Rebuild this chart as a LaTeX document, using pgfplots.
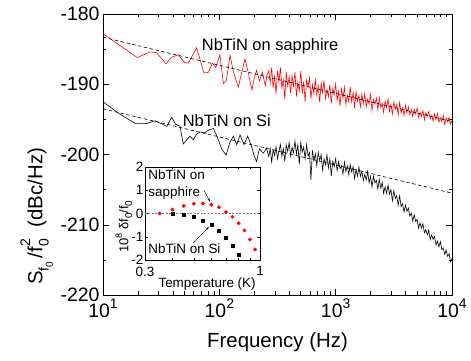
\documentclass[border=0pt]{standalone}
\usepackage{fontspec}
\setmainfont{Liberation Sans}
\usepackage{pgfplots}
\usepackage{pgfplotstable}
\pgfplotsset{compat=1.18}
\usetikzlibrary{arrows.meta}
\newcommand{\sups}[2][14]{\raisebox{0.5em}{\fontsize{#1}{#1}\selectfont #2}}

\pgfplotstableread{
lx db
1.000 -182.8
1.295 -186.2
1.404 -185.4
1.460 -185.5
1.542 -187.1
1.585 -186.2
1.648 -185.8
1.700 -186.9
1.733 -187.0
1.805 -184.8
1.868 -188.4
1.906 -188.3
1.940 -187.0
1.970 -187.6
2.005 -185.8
2.035 -189.9
2.060 -189.5
2.092 -185.9
2.120 -188.2
2.163 -190.4
2.190 -188.5
2.220 -186.4
2.250 -188.4
2.280 -190.8
2.300 -189.2
2.320 -188.0
2.345 -189.5
2.370 -188.3
2.395 -190.2
2.410 -188.6
2.4250 -188.10
2.4375 -189.80
2.4500 -187.60
2.4625 -190.50
2.4750 -188.75
2.4875 -191.35
2.5000 -188.10
2.5125 -189.65
2.5250 -187.60
2.5375 -190.50
2.5500 -189.35
2.5625 -192.10
2.5750 -188.25
2.5875 -190.25
2.6000 -188.95
2.6125 -191.25
2.6250 -188.75
2.6375 -190.30
2.6500 -188.25
2.6625 -191.75
2.6750 -189.70
2.6875 -190.95
2.7000 -188.15
2.7125 -191.35
2.7250 -189.60
2.7375 -192.50
2.7500 -189.40
2.7625 -190.35
2.7750 -189.05
2.7875 -192.10
2.8000 -190.05
2.8125 -191.30
2.8250 -189.40
2.8375 -191.49
2.8500 -190.22
2.8625 -192.55
2.8750 -189.84
2.8875 -191.21
2.9000 -189.46
2.9125 -192.03
2.9250 -190.76
2.9375 -191.77
2.9500 -190.02
2.9625 -192.71
2.9750 -190.60
2.9875 -191.49
3.0000 -189.98
3.0125 -192.31
3.0250 -191.04
3.0375 -193.13
3.0500 -190.66
3.0625 -192.03
3.0750 -190.40
3.0875 -192.85
3.1000 -191.58
3.1125 -192.47
3.1250 -190.36
3.1375 -192.45
3.1500 -191.18
3.1625 -193.39
3.1750 -191.04
3.1875 -192.41
3.2000 -191.62
3.2125 -193.23
3.2250 -191.39
3.2375 -192.79
3.2500 -191.31
3.2625 -193.25
3.2750 -192.13
3.2875 -192.81
3.3000 -191.42
3.3125 -193.72
3.3250 -192.15
3.3375 -192.83
3.3500 -191.98
3.3625 -193.56
3.3750 -191.90
3.3875 -193.30
3.4000 -192.72
3.4125 -194.03
3.4250 -192.37
3.4375 -193.32
3.4500 -192.11
3.4625 -193.87
3.4750 -192.84
3.4875 -194.24
3.5000 -192.49
3.5125 -193.53
3.5250 -192.86
3.5375 -194.35
3.5500 -192.60
3.5625 -194.09
3.5750 -193.33
3.5875 -194.46
3.6000 -192.98
3.6125 -194.11
3.6250 -193.20
3.6375 -194.33
3.6500 -193.60
3.6625 -194.61
3.6750 -193.58
3.6875 -194.23
3.7000 -193.38
3.7125 -194.69
3.7250 -193.96
3.7375 -194.61
3.7500 -193.76
3.7625 -195.07
3.7750 -194.04
3.7875 -194.57
3.8000 -193.90
3.8125 -194.97
3.8250 -194.42
3.8375 -195.25
3.8500 -194.22
3.8625 -195.05
3.8750 -194.14
3.8875 -195.39
3.9000 -194.78
3.9125 -195.31
3.9250 -194.46
3.9375 -195.71
3.9500 -194.80
3.9625 -195.33
3.9750 -194.72
3.9875 -195.67
4.0000 -195.18
}\redtab

\pgfplotstableread{
lx db
1.000 -192.5
1.140 -194.2
1.280 -195.6
1.375 -195.6
1.447 -195.2
1.500 -195.6
1.548 -196.0
1.590 -194.7
1.625 -195.7
1.662 -196.0
1.690 -198.5
1.720 -197.9
1.748 -197.4
1.775 -197.9
1.805 -197.1
1.834 -196.8
1.875 -196.9
1.910 -196.5
1.948 -196.3
1.980 -197.4
2.020 -199.2
2.058 -200.1
2.090 -198.3
2.120 -197.4
2.150 -198.6
2.178 -197.2
2.212 -198.6
2.244 -197.4
2.278 -198.9
2.300 -200.2
2.320 -201.0
2.344 -199.2
2.378 -199.8
2.406 -199.1
2.4250 -200.30
2.4375 -199.18
2.4500 -201.07
2.4625 -199.35
2.4750 -200.13
2.4875 -198.92
2.5000 -200.60
2.5125 -199.54
2.5250 -198.58
2.5375 -200.21
2.5500 -199.15
2.5625 -200.99
2.5750 -198.63
2.5875 -199.56
2.6000 -198.30
2.6125 -200.19
2.6250 -198.98
2.6375 -199.76
2.6500 -198.05
2.6625 -199.94
2.6750 -198.63
2.6875 -201.41
2.7000 -198.30
2.7125 -199.63
2.7250 -198.95
2.7375 -200.58
2.7500 -198.60
2.7625 -200.23
2.7750 -199.75
2.7875 -203.60
2.8000 -199.40
2.8125 -200.89
2.8250 -199.88
2.8375 -201.56
2.8500 -199.65
2.8625 -200.84
2.8750 -200.03
2.8875 -202.21
2.9000 -200.60
2.9125 -201.48
2.9250 -200.05
2.9375 -201.93
2.9500 -200.60
2.9625 -203.08
2.9750 -200.95
2.9875 -201.73
3.0000 -200.62
3.0125 -202.28
3.0250 -200.99
3.0375 -202.01
3.0500 -201.59
3.0625 -202.77
3.0750 -201.08
3.0875 -202.42
3.1000 -201.60
3.1125 -202.88
3.1250 -201.43
3.1375 -202.47
3.1500 -201.74
3.1625 -203.42
3.1750 -202.13
3.1875 -203.09
3.2000 -201.80
3.2125 -203.11
3.2250 -202.35
3.2375 -203.74
3.2500 -202.81
3.2625 -203.64
3.2750 -202.40
3.2875 -204.03
3.3000 -203.10
3.3125 -204.59
3.3250 -203.11
3.3375 -204.04
3.3500 -203.68
3.3625 -204.93
3.3750 -203.53
3.3875 -204.78
3.4000 -203.94
3.4125 -205.54
3.4250 -204.59
3.4375 -205.55
3.4500 -204.35
3.4625 -205.63
3.4750 -205.00
3.4875 -206.60
3.5000 -205.16
3.5125 -206.27
3.5250 -205.85
3.5375 -207.20
3.5500 -205.90
3.5625 -207.41
3.5750 -206.99
3.5875 -208.18
3.6000 -207.18
3.6125 -208.09
3.6250 -207.62
3.6375 -208.77
3.6500 -208.36
3.6625 -209.45
3.6750 -208.56
3.6875 -209.53
3.7000 -209.24
3.7125 -210.47
3.7250 -209.73
3.7375 -210.48
3.7500 -209.85
3.7625 -211.14
3.7750 -210.70
3.7875 -211.45
3.8000 -210.76
3.8125 -212.11
3.8250 -211.43
3.8375 -212.06
3.8500 -211.67
3.8625 -212.90
3.8750 -212.34
3.8875 -213.15
3.9000 -212.40
3.9125 -213.55
3.9250 -213.32
3.9375 -214.23
3.9500 -213.58
3.9625 -214.49
3.9750 -214.14
3.9875 -215.29
4.0000 -214.82
}\blacktab

\begin{document}
\begin{tikzpicture}
\path[use as bounding box] (0,0) rectangle (471bp,361bp);
\begin{axis}[
  at={(103bp,66bp)}, anchor=south west,
  scale only axis, width=349bp, height=281bp,
  xmode=log, xmin=10, xmax=10000,
  ymin=-220, ymax=-180,
  xtick={10,100,1000,10000},
  xticklabels={10\sups{1},10\sups{2},10\sups{3},10\sups{4}},
  minor xtick={20,30,40,50,60,70,80,90,200,300,400,500,600,700,800,900,2000,3000,4000,5000,6000,7000,8000,9000},
  ytick={-220,-210,-200,-190,-180},
  yticklabels={-220,-210,-200,-190,-180},
  minor ytick={-215,-205,-195,-185},
  tick align=inside,
  major tick length=6bp, minor tick length=3.5bp,
  every tick/.style={black, line width=0.5pt},
  axis line style={line width=0.7pt},
  tick label style={font=\fontsize{19.5}{22}\selectfont},
  xlabel={Frequency (Hz)},
  label style={font=\fontsize{20.5}{24}\selectfont},
  xlabel style={at={(axis description cs:0.5,-0.167)}, anchor=center},
  clip mode=individual,
]
\addplot[red, line width=0.6pt] table[x expr={10^(\thisrow{lx})}, y=db] {\redtab};
\addplot[black, line width=0.6pt] table[x expr={10^(\thisrow{lx})}, y=db] {\blacktab};
\addplot[black, line width=0.6pt, dash pattern=on 3.5bp off 2.5bp] coordinates {(10,-183.3) (10000,-195.3)};
\addplot[black, line width=0.6pt, dash pattern=on 3.5bp off 2.5bp] coordinates {(10,-193.5) (10000,-205.5)};
\node[anchor=west, font=\fontsize{16.5}{18}\selectfont, inner sep=0pt] at (axis cs:70.6,-184.55) {NbTiN on sapphire};
\node[anchor=west, font=\fontsize{16.5}{18}\selectfont, inner sep=0pt] at (axis cs:48.4,-195.2) {NbTiN on Si};
\node[rotate=90, anchor=center, inner sep=0pt, font=\fontsize{20.5}{24}\selectfont] at (rel axis cs:-0.19,0.28)
  {S\raisebox{-0.3em}{\fontsize{14}{14}\selectfont f\raisebox{-0.3em}{\fontsize{10}{10}\selectfont 0}}\,/f\rlap{\raisebox{0.6em}{\fontsize{14}{14}\selectfont 2}}\raisebox{-0.3em}{\fontsize{14}{14}\selectfont 0}\hspace{0.3em} (dBc/Hz)};
\end{axis}

\begin{axis}[
  at={(145bp,101bp)}, anchor=south west,
  scale only axis, width=115bp, height=93bp,
  xmode=log, xmin=0.3, xmax=1, ymin=-2, ymax=2,
  xtick={0.3,1}, xticklabels={0.3,1},
  minor xtick={0.4,0.5,0.6,0.7,0.8,0.9},
  ytick={-2,-1,0,1,2}, yticklabels={-2,-1,0,1,2},
  tick align=inside, major tick length=3.5bp, minor tick length=2bp,
  every tick/.style={black, line width=0.4pt},
  axis line style={line width=0.5pt},
  axis background/.style={fill=white},
  tick label style={font=\fontsize{13.5}{15}\selectfont},
  xticklabel style={inner sep=0.5pt, yshift=-6bp},
  yticklabel style={inner sep=1.5pt},
  xlabel={Temperature (K)},
  label style={font=\fontsize{13.5}{15}\selectfont},
  xlabel style={at={(axis description cs:0.54,-0.26)}, anchor=center},
  clip mode=individual,
]
\addplot[gray, line width=0.4pt, dash pattern=on 2bp off 1.5bp] coordinates {(0.3,0) (1,0)};
\addplot[only marks, mark=*, mark size=1.7bp, red] coordinates {
(0.35,0.00) (0.40,0.17) (0.45,0.33) (0.50,0.42) (0.55,0.43) (0.60,0.37) (0.65,0.27)
(0.70,0.06) (0.75,-0.14) (0.80,-0.42) (0.85,-0.73) (0.90,-1.12) (0.95,-1.55)};
\addplot[only marks, mark=square*, mark size=1.5bp, black] coordinates {
(0.40,0.00) (0.45,-0.04) (0.50,-0.14) (0.55,-0.29) (0.60,-0.47) (0.65,-0.74)
(0.70,-1.03) (0.75,-1.37) (0.80,-1.76)};
\node[anchor=west, font=\fontsize{13.5}{15}\selectfont, inner sep=0pt] at (axis cs:0.3105,1.66) {NbTiN on};
\node[anchor=west, font=\fontsize{13.5}{15}\selectfont, inner sep=0pt] at (axis cs:0.3105,0.88) {sapphire};
\node[anchor=west, font=\fontsize{13.5}{15}\selectfont, inner sep=0pt] at (axis cs:0.3105,-1.53) {NbTiN on Si};
\draw[-{Stealth[length=3bp]}, line width=0.4pt] (axis cs:0.496,-1.28) -- (axis cs:0.585,-0.58);
\draw[-{Stealth[length=3bp]}, line width=0.4pt] (axis cs:0.556,1.0) -- (axis cs:0.592,0.52);
\node[rotate=90, anchor=center, inner sep=0pt, font=\fontsize{13}{15}\selectfont] at (rel axis cs:-0.183,0.36)
  {10\sups[9]{8} δf\raisebox{-0.3em}{\fontsize{10}{10}\selectfont 0}/f\raisebox{-0.3em}{\fontsize{10}{10}\selectfont 0}};
\end{axis}
\end{tikzpicture}
\end{document}
